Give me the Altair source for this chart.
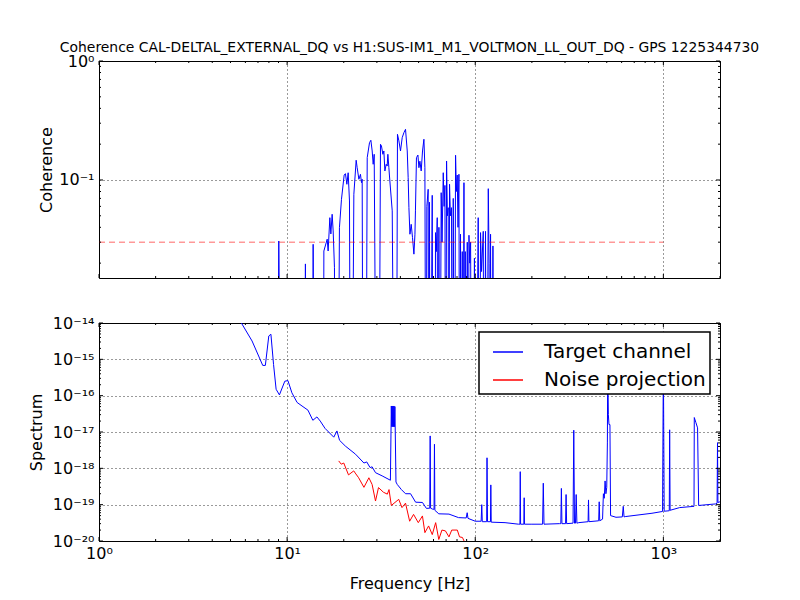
import altair as alt
import pandas as pd

FONT = "DejaVu Sans"
B = 1e-4  # below the visible coherence range

# ---------------- coherence (top panel) ----------------
coh_freq = [1.0,
            8.85, 9.03, 9.33,
            12.35, 12.51, 12.6,
            13.58, 13.75, 14.04,
            15.54, 15.68, 16.33, 16.52, 16.87, 17.08, 17.35, 17.57, 17.85, 18.0,
            18.56, 18.97, 19.45, 20.1, 20.42, 20.78, 21.11, 21.45, 21.77,
            22.03, 22.63, 23.28, 23.57, 24.07, 24.54, 24.85, 25.06, 25.37,
            26.16, 26.65, 27.41, 27.87, 28.32, 28.67, 29.03, 29.93,
            30.67, 31.35, 31.73, 32.28, 32.68, 33.09, 33.62, 34.03, 34.32, 34.75, 35.0, 36.2, 37.3,
            38.0, 38.6, 39.28, 40.06, 40.9, 41.76, 42.6, 43.5, 44.0, 44.4, 44.96, 45.66, 46.4, 47.2,
            47.8, 48.1, 48.7, 49.57, 50.18, 50.8, 51.6, 52.45, 53.35, 54.0, 54.7,
            55.3, 56.2, 56.7, 57.1, 57.6, 59.06, 59.6, 61.0, 61.5, 62.1, 62.8, 63.4, 64.1, 64.8,
            65.9, 66.6, 67.6, 68.3, 69.0, 69.6, 70.4, 71.1, 71.8, 72.4, 73.0, 73.8, 74.8, 75.5,
            76.4, 77.4, 78.6, 79.4, 80.2, 81.0, 81.9, 82.7, 83.5, 84.3, 85.3, 86.2, 87.1, 87.8,
            88.5, 89.5, 90.7, 91.5, 92.6, 93.5, 94.5, 95.6, 97.6, 99.0, 100.5, 103.7, 105.0,
            106.7, 108.0, 110.3, 111.5, 113.4, 115.0, 117.3, 118.5, 119.5, 120.6, 122.0, 124.2,
            125.5, 2000.0]
coh_val = [B,
           B, 0.0307, B,
           B, 0.0197, B,
           B, 0.0288, B,
           B, 0.0253, 0.0318, 0.0253, 0.0482, 0.0352, 0.0515, 0.0373, 0.0183, B,
           B, 0.0397, 0.0688, 0.110, 0.113, 0.092, 0.115, 0.0666, B,
           B, 0.0758, 0.1465, 0.1268, 0.1014, 0.1116, 0.0949, 0.1014, B,
           B, 0.154, 0.2058, 0.2157, 0.1753, 0.1355, 0.1644, B,
           B, 0.1995, 0.193, 0.1644, 0.1753, 0.119, 0.1355, 0.131, 0.1644, 0.1268, 0.108, 0.055, B,
           B, 0.242, 0.213, 0.1753, 0.2267, 0.2497, 0.2667, 0.1753, 0.1045, 0.0585, 0.035, 0.0424, 0.0328, 0.0238,
           0.035, 0.055, 0.154, 0.162, 0.1268, 0.1438, 0.119, 0.1753, 0.22, 0.1268, B,
           0.06, 0.0835, B, 0.065, B, 0.0743, B, B, 0.0361, 0.025, 0.0482, B, 0.04, B,
           0.0782, 0.03, 0.1151, 0.06, 0.09, B, 0.1444, 0.05, 0.0585, B, 0.092, 0.05, 0.0585, B,
           0.07, B, 0.1613, 0.08, 0.11, 0.04, 0.1117, B, 0.035, B, 0.025, B, 0.0949, B,
           0.025, B, 0.03, B, 0.0343, 0.02, 0.03, B, B, 0.022, B, 0.0482, B,
           0.0361, 0.017, 0.037, B, 0.037, B, 0.0845, 0.02, B, 0.035, B, 0.0279,
           B, B]

thresh_freq = [1.0, 1000.0]
thresh_val = [0.03, 0.03]

# ---------------- spectrum (bottom panel) ----------------
target_freq = [5.0, 6.51, 7.42, 7.66, 7.99, 8.2, 8.47, 8.74, 9.1, 9.72, 10.1, 10.6, 11.3, 12.0,
               12.9, 13.7, 14.4, 15.0, 15.9, 17.7, 18.4, 19.0, 20.4, 23.1, 25.6, 26.5, 27.6,
               28.3, 29.5, 32.0, 35.4, 35.8, 36.0, 36.2, 36.4, 36.6, 36.8, 37.0, 37.2, 37.4,
               37.9, 38.5, 40.5, 42.6,
               45.3, 48.2, 52.4, 55.0, 57.3, 57.6, 57.9, 59.5, 60.4, 60.7, 61.0, 64.0, 72.5,
               81.5, 89.5, 90.6, 91.5, 100, 107.5, 108.3, 109, 115, 115.5, 116.2, 120.5, 121,
               121.6, 144, 170, 172.8, 173.5, 174.2, 181.3, 182, 182.7, 200, 228, 230, 232,
               280, 285, 287, 289, 302, 304, 306, 331, 334, 337, 341, 344, 347, 355, 398, 400,
               402, 453, 456, 459, 475, 480, 485, 490, 495, 500, 504, 506, 510, 514, 520, 524,
               560, 605, 612, 618, 627, 870, 990, 1000, 1010, 1075, 1080, 1086, 1220, 1455,
               1460, 1490, 1520, 1540, 1900, 1930, 1940, 1950, 2000]
target_val = [3.2e-14, 3.2e-15, 6.8e-16, 6.8e-16, 4.4e-15, 4.9e-15, 7.2e-16, 1.5e-16, 1.05e-16,
              2.5e-16, 2.6e-16, 1.2e-16, 6.5e-17, 5.2e-17, 4.0e-17, 2.1e-17, 2.6e-17, 2.0e-17,
              1.26e-17, 7.2e-18, 1.07e-17, 5.9e-18, 4.1e-18, 2.45e-18, 1.4e-18, 1.5e-18,
              1.05e-18, 1.1e-18, 7.6e-19, 6.2e-19, 4.7e-19, 5.2e-17, 1.4e-17, 5.2e-17, 1.4e-17,
              5.2e-17, 1.4e-17, 5.2e-17, 1.4e-17, 5.0e-17,
              4.2e-19, 3.6e-19, 2.6e-19, 2.0e-19, 2.0e-19, 1.17e-19, 1.15e-19, 7.9e-20,
              8.0e-20, 7.8e-18, 8.0e-20, 7.5e-20, 7.5e-20, 4.6e-18, 7.0e-20, 5.6e-20, 5.5e-20,
              4.4e-20, 4.3e-20, 6.0e-20, 4.2e-20, 3.5e-20, 3.5e-20, 1.0e-19, 3.4e-20, 3.4e-20,
              1.95e-18, 3.4e-20, 3.4e-20, 3.5e-19, 3.3e-20, 3.2e-20, 2.9e-20, 2.9e-20, 8.1e-19,
              2.9e-20, 2.9e-20, 1.55e-19, 2.9e-20, 2.9e-20, 2.9e-20, 3.9e-19, 2.9e-20, 3.0e-20,
              3.0e-20, 2.8e-19, 3.0e-20, 3.0e-20, 1.9e-19, 3.0e-20, 3.1e-20, 1.12e-17, 3.1e-20,
              3.1e-20, 1.9e-19, 3.1e-20, 3.2e-20, 3.4e-20, 1.35e-19, 3.4e-20, 3.6e-20, 1.2e-19,
              3.6e-20, 4.0e-20, 2.0e-19, 1.5e-19, 4.5e-19, 2.0e-19, 3.0e-19, 5.0e-18, 1.0e-15,
              3.0e-17, 1.6e-17, 1.6e-17, 5.0e-20, 4.5e-20, 4.6e-20, 9.0e-20, 4.6e-20, 4.7e-20,
              5.8e-20, 6.5e-20, 1.0e-15, 6.6e-20, 6.8e-20, 1.15e-17, 7.0e-20, 8.3e-20, 9.0e-20,
              2.5e-17, 1.8e-17, 1.3e-17, 9.5e-20, 1.05e-19, 1.1e-19, 5.1e-18, 1.15e-19, 1.2e-19]

proj_freq = [18.8, 19.4, 20.0, 21.2, 22.6, 23.2, 24.0, 25.6, 27.2, 28.3, 29.5, 30.6, 32.5, 34.1,
             34.8, 35.8, 39.2, 40.8, 42.6, 44.8, 47.0, 49.8, 52.4, 54.0, 56.5, 59.1, 61.6, 64.0,
             66.5, 69.4, 72.5, 75.0, 80.3, 82.5, 85.5, 88.0]
proj_val = [1.6e-18, 1.3e-18, 1.4e-18, 6.6e-19, 8.5e-19, 7.0e-19, 5.5e-19, 3.0e-19, 5.5e-19,
            3.6e-19, 1.26e-19, 2.95e-19, 2.2e-19, 1.95e-19, 2.6e-19, 9.5e-20, 1.4e-19, 8.3e-20,
            1.1e-19, 3.5e-20, 5.4e-20, 3.2e-20, 4.9e-20, 1.7e-20, 2.6e-20, 1.5e-20, 3.2e-20,
            1.1e-20, 2.0e-20, 1.9e-20, 1.3e-20, 2.0e-20, 2.0e-20, 1.3e-20, 1.25e-20, 0.9e-20]

series_names = ["Target channel", "Noise projection"]
series_colors = ["#0000ff", "#ff0000"]

# ---------------- ticks / labels ----------------
x_major = [1, 10, 100, 1000]
x_labels = ["10\u2070", "10\u00b9", "10\u00b2", "10\u00b3"]
x_minor = [m * d for d in (1, 10, 100) for m in range(2, 10)] + [2000]
coh_major = [0.1, 1.0]
coh_labels = ["10\u2070", "10\u207b\u00b9"]
coh_minor = [m * d for d in (0.01, 0.1) for m in range(2, 10) if 0.015 <= m * d <= 1]
spec_major = [1e-20, 1e-19, 1e-18, 1e-17, 1e-16, 1e-15, 1e-14]
spec_labels = ["10\u207b\u00b9\u2074", "10\u207b\u00b9\u2075", "10\u207b\u00b9\u2076",
               "10\u207b\u00b9\u2077", "10\u207b\u00b9\u2078", "10\u207b\u00b9\u2079",
               "10\u207b\u00b2\u2070"]
spec_minor = [m * 10.0 ** e for e in range(-20, -14) for m in range(2, 10)]

W = 621
H_TOP = 217
H_BOT = 218


def arr_expr(labels, index_expr):
    return "[" + ",".join("'" + s + "'" for s in labels) + "][" + index_expr + "]"


LOG = "round(log(datum.value)/LN10)"
grid_kw = dict(grid=True, gridColor="black", gridDash=[1, 3], gridWidth=0.8, gridOpacity=1,
               ticks=False, domain=False, labelFont=FONT, labelFontSize=16, labelColor="black",
               labelFlush=False,
               titleFont=FONT, titleFontSize=16, titleFontWeight="normal", titleColor="black")

x_scale = alt.Scale(type="log", domain=[1, 2000], nice=False)
x_top = alt.X("f:Q", scale=x_scale,
              axis=alt.Axis(values=x_major, labels=False, title=None, **grid_kw))
x_bot = alt.X("f:Q", scale=x_scale,
              axis=alt.Axis(values=x_major, labelExpr=arr_expr(x_labels, LOG),
                            labelPadding=4, title="Frequency [Hz]", titlePadding=14, **grid_kw))
y_top = alt.Y("v:Q", scale=alt.Scale(type="log", domain=[0.015, 1], nice=False),
              axis=alt.Axis(values=coh_major, labelExpr=arr_expr(coh_labels, "-" + LOG),
                            labelPadding=5, title="Coherence", titlePadding=4, **grid_kw))
y_bot = alt.Y("v:Q", scale=alt.Scale(type="log", domain=[1e-20, 1e-14], nice=False),
              axis=alt.Axis(values=spec_major, labelExpr=arr_expr(spec_labels, "-14-" + LOG),
                            labelPadding=5, title="Spectrum", titlePadding=8, **grid_kw))


def tick_layers(xenc, h):
    layers = []
    for vals, ln in ((x_major, 4), (x_minor, 2)):
        base = alt.Chart(pd.DataFrame({"f": vals})).mark_rule(color="black", strokeWidth=1)
        layers.append(base.encode(x=xenc, y=alt.value(h), y2=alt.value(h - ln)))
        layers.append(base.encode(x=xenc, y=alt.value(0), y2=alt.value(ln)))
    return layers


def ytick_layers(yenc, major, minor):
    layers = []
    for vals, ln in ((major, 4), (minor, 2)):
        base = alt.Chart(pd.DataFrame({"v": vals})).mark_rule(color="black", strokeWidth=1)
        layers.append(base.encode(y=yenc, x=alt.value(0), x2=alt.value(ln)))
        layers.append(base.encode(y=yenc, x=alt.value(W), x2=alt.value(W - ln)))
    return layers


coh_df = pd.DataFrame({"f": coh_freq, "v": coh_val})
thr_df = pd.DataFrame({"f": thresh_freq, "v": thresh_val})

coh_line = alt.Chart(coh_df).mark_line(color="#0000ff", strokeWidth=1, clip=True).encode(
    x=x_top, y=y_top)
thr_line = alt.Chart(thr_df).mark_line(color="#ff0000", strokeWidth=1, strokeDash=[6, 4],
                                       opacity=0.6, clip=True).encode(x=x_top, y=y_top)

top = alt.layer(coh_line, thr_line,
                *tick_layers(x_top, H_TOP),
                *ytick_layers(y_top, coh_major, coh_minor)).properties(
    width=W, height=H_TOP,
    title=alt.TitleParams(
        "Coherence CAL-DELTAL_EXTERNAL_DQ vs H1:SUS-IM1_M1_VOLTMON_LL_OUT_DQ - GPS 1225344730",
        font=FONT, fontSize=13.9, fontWeight="normal", color="black", anchor="middle",
        frame="group", offset=-2))

spec_df = pd.concat([
    pd.DataFrame({"f": target_freq, "v": target_val, "series": series_names[0]}),
    pd.DataFrame({"f": proj_freq, "v": proj_val, "series": series_names[1]}),
], ignore_index=True)

spec_line = alt.Chart(spec_df).mark_line(strokeWidth=1, clip=True).encode(
    x=x_bot, y=y_bot,
    color=alt.Color("series:N",
                    scale=alt.Scale(domain=series_names, range=series_colors),
                    legend=alt.Legend(title=None, orient="none", legendX=380, legendY=9,
                                      symbolType="stroke", symbolSize=900, symbolOffset=9,
                                      symbolStrokeWidth=1.5, labelFont=FONT, labelFontSize=20,
                                      labelColor="black", labelOffset=20, rowPadding=2,
                                      padding=4, fillColor="white", strokeColor="black",
                                      labelLimit=400)),
    detail="series:N")

bottom = alt.layer(spec_line,
                   *tick_layers(x_bot, H_BOT),
                   *ytick_layers(y_bot, spec_major, spec_minor)).properties(
    width=W, height=H_BOT)

chart = alt.vconcat(top, bottom, spacing=35).resolve_scale(
    y="independent", color="independent").resolve_legend(color="independent").configure_view(
    stroke="black", strokeWidth=1).configure_legend(strokeWidth=1.5).properties(
    background="white", padding={"left": 19, "top": 32, "right": 5, "bottom": 5})

chart.save("out.html", embed_options={"renderer": "svg", "actions": False})
